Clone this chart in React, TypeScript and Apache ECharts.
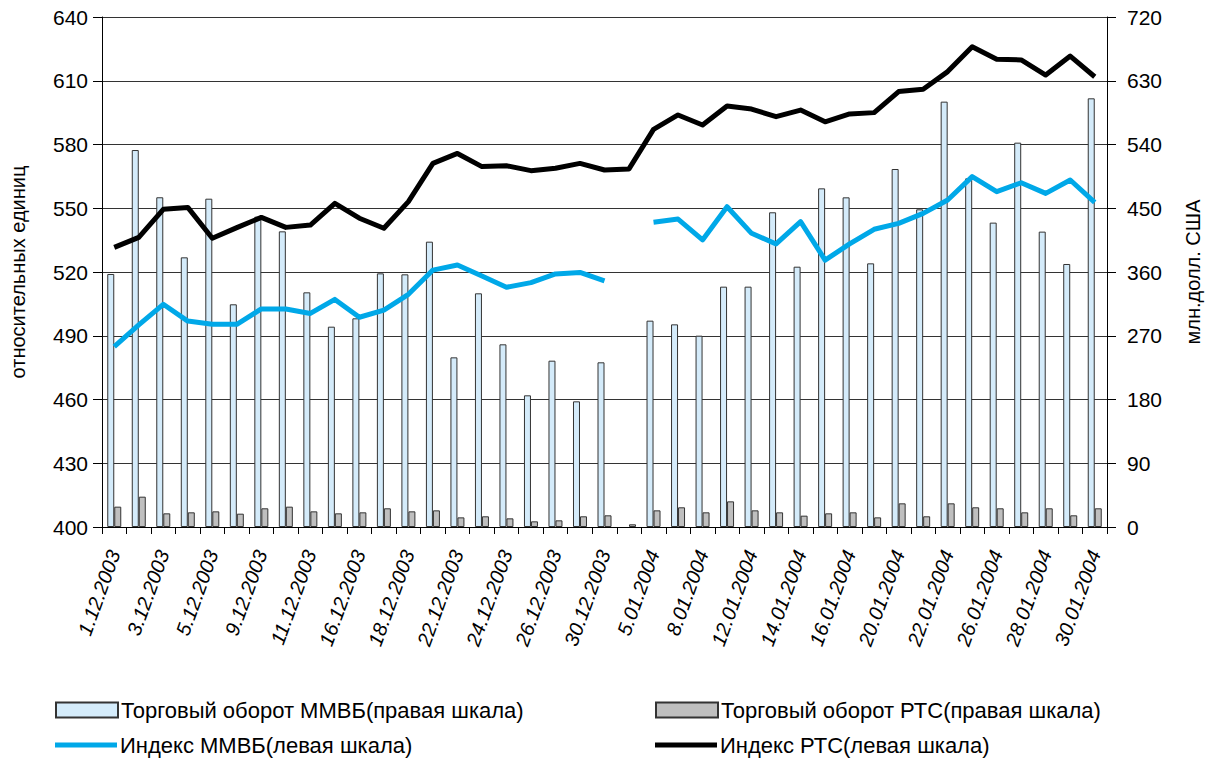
import React, { useEffect, useRef } from "react";
import * as echarts from "echarts";

const categories = [
  "1.12.2003", "2.12.2003", "3.12.2003", "4.12.2003", "5.12.2003", "8.12.2003",
  "9.12.2003", "10.12.2003", "11.12.2003", "15.12.2003", "16.12.2003", "17.12.2003",
  "18.12.2003", "19.12.2003", "22.12.2003", "23.12.2003", "24.12.2003", "25.12.2003",
  "26.12.2003", "29.12.2003", "30.12.2003", "31.12.2003", "5.01.2004", "6.01.2004",
  "8.01.2004", "9.01.2004", "12.01.2004", "13.01.2004", "14.01.2004", "15.01.2004",
  "16.01.2004", "19.01.2004", "20.01.2004", "21.01.2004", "22.01.2004", "23.01.2004",
  "26.01.2004", "27.01.2004", "28.01.2004", "29.01.2004", "30.01.2004",
];

// Index values (left scale)
const rtsIndex = [
  531.6, 536.3, 549.5, 550.4, 535.9, 540.9, 545.7, 541.0, 542.1, 552.3, 545.3, 540.6,
  553.1, 571.1, 575.8, 569.6, 570.0, 567.7, 568.8, 571.1, 568.0, 568.5, 587.1, 593.9,
  589.2, 598.1, 596.7, 593.1, 596.2, 590.7, 594.4, 595.0, 604.9, 606.0, 614.3, 626.0,
  620.1, 619.8, 612.7, 621.6, 611.9,
];
const micexIndex: (number | null)[] = [
  484.9, 495.1, 504.8, 496.9, 495.4, 495.4, 502.6, 502.6, 500.5, 507.1, 498.7, 502.1,
  509.5, 520.9, 523.3, 518.1, 512.8, 515.0, 519.1, 519.8, 515.8, null, 543.4, 544.9,
  535.1, 550.7, 538.2, 533.2, 543.7, 525.6, 533.2, 540.1, 542.9, 547.6, 553.9, 564.9,
  557.8, 562.0, 557.0, 563.3, 552.8,
];

// Turnover values (right scale, mln USD)
const micexTurnover: (number | null)[] = [
  357.2, 532.2, 465.5, 380.7, 463.5, 314.4, 438.1, 417.4, 331.3, 282.8, 294.6, 358.1,
  356.7, 402.8, 239.5, 329.9, 257.9, 185.9, 234.8, 177.4, 232.5, null, 291.3, 286.1,
  270.1, 339.3, 339.3, 444.3, 367.5, 478.1, 465.4, 372.2, 505.4, 448.5, 600.5, 492.2,
  429.7, 542.6, 417.0, 371.3, 605.2,
];
const rtsTurnover = [
  28.7, 42.8, 19.3, 20.7, 22.1, 18.8, 26.4, 28.7, 22.1, 19.3, 20.7, 26.4,
  22.1, 23.5, 13.6, 15.1, 12.2, 8.0, 9.4, 15.1, 16.5, 3.8, 23.5, 27.8,
  20.7, 36.2, 23.5, 20.7, 16.0, 19.3, 20.7, 13.6, 33.4, 15.1, 33.4, 27.8,
  26.4, 20.7, 26.4, 16.5, 26.4,
];

const leftTicks = { base: 400, top: 640, step: 30 };
const rightTicks = { min: 0, max: 720, step: 90 };

const names = {
  micexTurn: "Торговый оборот ММВБ(правая шкала)",
  rtsTurn: "Торговый оборот РТС(правая шкала)",
  micexIdx: "Индекс ММВБ(левая шкала)",
  rtsIdx: "Индекс РТС(левая шкала)",
};

const FONT = '"Liberation Sans", Arial, Helvetica, sans-serif';

export default function App() {
  const ref = useRef<HTMLDivElement>(null);
  useEffect(() => {
    const chart = echarts.init(ref.current!, null, { renderer: "svg" });
    const shift = (v: number | null) => (v == null ? null : +(v - leftTicks.base).toFixed(2));
    const legendBase = {
      padding: 0,
      itemGap: 0,
      icon: "rect",
      itemWidth: 62,
      textStyle: { fontSize: 22, color: "#000", fontFamily: FONT, padding: [0, 0, 0, -2] },
      selectedMode: false,
    };
    chart.setOption({
      animation: false,
      backgroundColor: "#fff",
      grid: { left: 102, right: 104, top: 17, bottom: 236, containLabel: false },
      legend: [
        { ...legendBase, data: [names.micexTurn], left: 55, top: 699, itemHeight: 15 },
        { ...legendBase, data: [names.rtsTurn], left: 655, top: 699, itemHeight: 15 },
        { ...legendBase, data: [names.micexIdx], left: 55, top: 734, itemHeight: 5 },
        { ...legendBase, data: [names.rtsIdx], left: 655, top: 734, itemHeight: 5 },
      ],
      xAxis: {
        type: "category",
        data: categories,
        boundaryGap: true,
        axisLine: { show: true, lineStyle: { color: "#000", width: 1 } },
        axisTick: { show: true, interval: 0, length: 7, lineStyle: { color: "#000" } },
        axisLabel: {
          interval: 1,
          rotate: 70,
          margin: 24,
          fontSize: 20,
          fontStyle: "italic",
          color: "#000",
          fontFamily: FONT,
        },
        splitLine: { show: false },
      },
      yAxis: [
        {
          type: "value",
          position: "left",
          min: 0,
          max: leftTicks.top - leftTicks.base,
          interval: leftTicks.step,
          axisLine: { show: true, lineStyle: { color: "#000", width: 1 } },
          axisTick: { show: true, length: 9, lineStyle: { color: "#000" } },
          axisLabel: {
            formatter: (v: number) => String(v + leftTicks.base),
            fontSize: 21,
            color: "#000",
            margin: 14,
            fontFamily: FONT,
          },
          splitLine: { show: true, lineStyle: { color: "#333", width: 1 } },
          name: "относительных единиц",
          nameLocation: "middle",
          nameRotate: 90,
          nameGap: 74,
          nameTextStyle: { fontSize: 20, color: "#000", fontFamily: FONT },
        },
        {
          type: "value",
          position: "right",
          min: rightTicks.min,
          max: rightTicks.max,
          interval: rightTicks.step,
          axisLine: { show: true, lineStyle: { color: "#000", width: 1 } },
          axisTick: { show: true, length: 9, lineStyle: { color: "#000" } },
          axisLabel: { fontSize: 21, color: "#000", margin: 20, fontFamily: FONT },
          splitLine: { show: false },
          name: "млн.долл. США",
          nameLocation: "middle",
          nameRotate: 90,
          nameGap: 76,
          nameTextStyle: { fontSize: 20, color: "#000", fontFamily: FONT },
        },
      ],
      series: [
        {
          name: names.micexTurn,
          type: "bar",
          yAxisIndex: 1,
          data: micexTurnover,
          barWidth: 7,
          barGap: "0%",
          itemStyle: { color: "#d4ebfa", borderColor: "#333", borderWidth: 1 },
          z: 1,
        },
        {
          name: names.rtsTurn,
          type: "bar",
          yAxisIndex: 1,
          data: rtsTurnover,
          barWidth: 7,
          barGap: "0%",
          itemStyle: { color: "#bfbfbf", borderColor: "#333", borderWidth: 1 },
          z: 1,
        },
        {
          name: names.micexIdx,
          type: "line",
          yAxisIndex: 0,
          data: micexIndex.map(shift),
          showSymbol: false,
          symbol: "none",
          connectNulls: false,
          itemStyle: { color: "#00a8e8" },
          lineStyle: { color: "#00a8e8", width: 5, join: "round" },
          z: 3,
        },
        {
          name: names.rtsIdx,
          type: "line",
          yAxisIndex: 0,
          data: rtsIndex.map(shift),
          showSymbol: false,
          symbol: "none",
          itemStyle: { color: "#000" },
          lineStyle: { color: "#000", width: 5, join: "round" },
          z: 4,
        },
      ],
    });
    return () => chart.dispose();
  }, []);
  return (
    <div
      ref={ref}
      style={{ position: "fixed", left: 0, top: 0, width: 1211, height: 763, background: "#fff" }}
    />
  );
}
